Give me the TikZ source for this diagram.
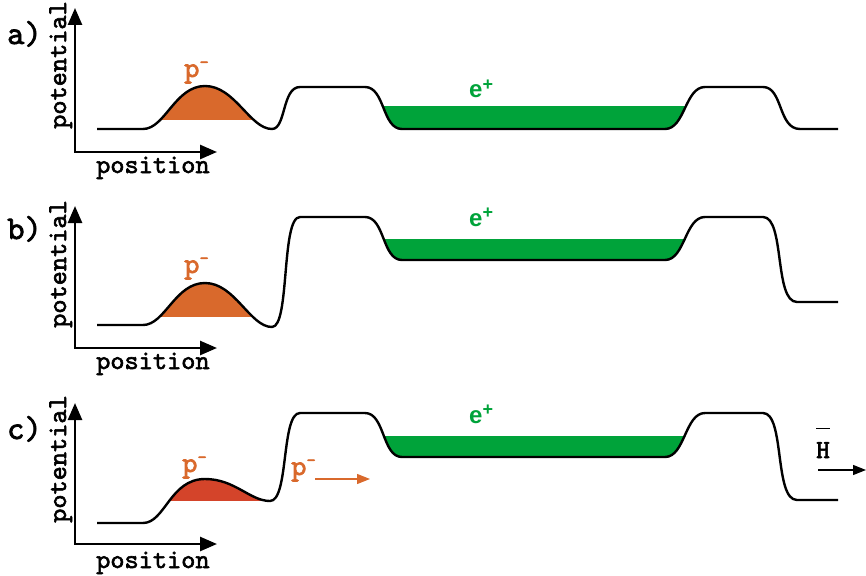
\documentclass[tikz,border=0pt]{standalone}
\usepackage{fontspec}
\newfontfamily\labsans{Liberation Sans}
\newfontfamily\labmono{lmmono10-regular.otf}[FakeBold=2.2]
\usetikzlibrary{arrows.meta}

\definecolor{pbar}{HTML}{D9692C}
\definecolor{pbarhot}{HTML}{D4442A}
\definecolor{positron}{HTML}{00A33A}

\tikzset{
  axis/.style={line width=2.6pt,
    {Triangle[length=17pt,width=14pt]}-{Triangle[length=17pt,width=14pt]}},
  axlabel/.style={font=\labmono\fontsize{27}{27}\selectfont, inner sep=0pt, anchor=base west},
  panel/.style={font=\labmono\fontsize{33}{33}\selectfont, inner sep=0pt, anchor=base west},
  pot/.style={line width=2.4pt, line join=round},
  plab/.style={text=pbar, font=\labmono\fontsize{29}{29}\selectfont, inner sep=0pt, anchor=base west},
  elab/.style={text=positron, font=\labsans\bfseries\fontsize{24}{24}\selectfont, inner sep=0pt, anchor=base west},
  hlab/.style={font=\labmono\fontsize{26}{26}\selectfont, inner sep=0pt, anchor=base west},
  thinarrow/.style={line width=1.2pt, -{Triangle[length=13pt,width=10pt]}},
}
\newcommand{\charge}[1]{\raisebox{0.32em}{\fontsize{18}{18}\selectfont #1}}

\begin{document}
\begin{tikzpicture}[x=1pt, y=-1pt]
    \useasboundingbox (0,0) rectangle (866,575);

    % ---------- a) ----------
    % axes
    \coordinate (a-top) at (75,8);
    \coordinate (a-right) at (217,152);
    \draw[axis] (a-top) |- (a-right);
    \node[panel] (a-tag) at (7,44) {a)};
    \node[axlabel] (a-xlab) at (96,173) {position};
    \node[axlabel, rotate=90] (a-ylab) at (66,129) {potential};

    % filled bunches
    \begin{scope}
        \clip (140,60) rectangle (280,119);
        \fill[pbar] (143,129) .. controls (165,129) and (175,86) .. (205,86)
            .. controls (235,86) and (250,129) .. (272,129) -- cycle;
    \end{scope}
    \begin{scope}
        \clip (360,107) rectangle (710,140);
        \fill[positron] (365,87) .. controls (385,87) and (382,129) .. (402,129) -- (665,129)
            .. controls (685,129) and (685,87) .. (705,87) -- cycle;
    \end{scope}

    % potential
    \draw[pot] (97,129) -- (143,129) .. controls (165,129) and (175,86) .. (205,86)
        .. controls (235,86) and (250,129) .. (272,129)
        .. controls (286,129) and (282,87) .. (300,87) -- (365,87)
        .. controls (385,87) and (382,129) .. (402,129) -- (665,129)
        .. controls (685,129) and (685,87) .. (705,87) -- (763,87)
        .. controls (783,87) and (778,129) .. (800,129) -- (838,129);

    \node[plab] (a-pbar) at (184,77) {p\charge{-}};
    \node[elab] (a-pos) at (469,98) {e\charge{+}};

    % ---------- b) ----------
    % axes
    \coordinate (b-top) at (75,206);
    \coordinate (b-right) at (217,348);
    \draw[axis] (b-top) |- (b-right);
    \node[panel] (b-tag) at (7,239) {b)};
    \node[axlabel] (b-xlab) at (96,369) {position};
    \node[axlabel, rotate=90] (b-ylab) at (66,328) {potential};

    % filled bunches
    \begin{scope}
        \clip (140,260) rectangle (280,316);
        \fill[pbar] (143,325) .. controls (165,325) and (175,283) .. (205,283)
            .. controls (235,283) and (250,327) .. (272,327) -- cycle;
    \end{scope}
    \begin{scope}
        \clip (360,239) rectangle (710,270);
        \fill[positron] (365,217) .. controls (385,217) and (382,260) .. (402,260) -- (665,260)
            .. controls (685,260) and (685,217) .. (705,217) -- cycle;
    \end{scope}

    % potential
    \draw[pot] (97,325) -- (143,325) .. controls (165,325) and (175,283) .. (205,283)
        .. controls (235,283) and (250,327) .. (272,327)
        .. controls (290,327) and (281,217) .. (300,217) -- (365,217)
        .. controls (385,217) and (382,260) .. (402,260) -- (665,260)
        .. controls (685,260) and (685,217) .. (705,217) -- (763,217)
        .. controls (785,217) and (774,302) .. (797,302) -- (838,302);

    \node[plab] (b-pbar) at (184,273) {p\charge{-}};
    \node[elab] (b-pos) at (469,226) {e\charge{+}};

    % ---------- c) ----------
    % axes
    \coordinate (c-top) at (75,403);
    \coordinate (c-right) at (217,544);
    \draw[axis] (c-top) |- (c-right);
    \node[panel] (c-tag) at (7,439) {c)};
    \node[axlabel] (c-xlab) at (96,568) {position};
    \node[axlabel, rotate=90] (c-ylab) at (66,523) {potential};

    % filled bunches
    \begin{scope}
        \clip (140,460) rectangle (280,500);
        \fill[pbarhot] (143,523) .. controls (165,523) and (170,479) .. (205,479)
            .. controls (235,479) and (250,501) .. (270,501) -- cycle;
    \end{scope}
    \begin{scope}
        \clip (360,436) rectangle (710,470);
        \fill[positron] (365,413) .. controls (385,413) and (382,457) .. (402,457) -- (665,457)
            .. controls (685,457) and (685,413) .. (705,413) -- cycle;
    \end{scope}

    % potential
    \draw[pot] (97,523) -- (143,523) .. controls (165,523) and (170,479) .. (205,479)
        .. controls (235,479) and (250,501) .. (270,501)
        .. controls (289,501) and (281,413) .. (300,413) -- (365,413)
        .. controls (385,413) and (382,457) .. (402,457) -- (665,457)
        .. controls (685,457) and (685,413) .. (705,413) -- (763,413)
        .. controls (785,413) and (774,500) .. (797,500) -- (838,500);

    \node[plab] (c-pbar) at (182,472) {p\charge{-}};
    \node[elab] (c-pos) at (469,423) {e\charge{+}};

    % escaping antiproton and antihydrogen
    \node[plab] (c-pout) at (291,475) {p\charge{-}};
    \coordinate (c-pout-end) at (370,479);
    \draw[thinarrow, pbar] (315,479) -- (c-pout-end);
    \node[hlab] (c-hbar) at (816,458) {$\overline{\rule{0pt}{1.1em}\mbox{H}}$};
    \coordinate (c-h-start) at (818,470);
    \coordinate (c-h-end) at (866,470);
    \draw[thinarrow] (c-h-start) -- (c-h-end);
\end{tikzpicture}
\end{document}
